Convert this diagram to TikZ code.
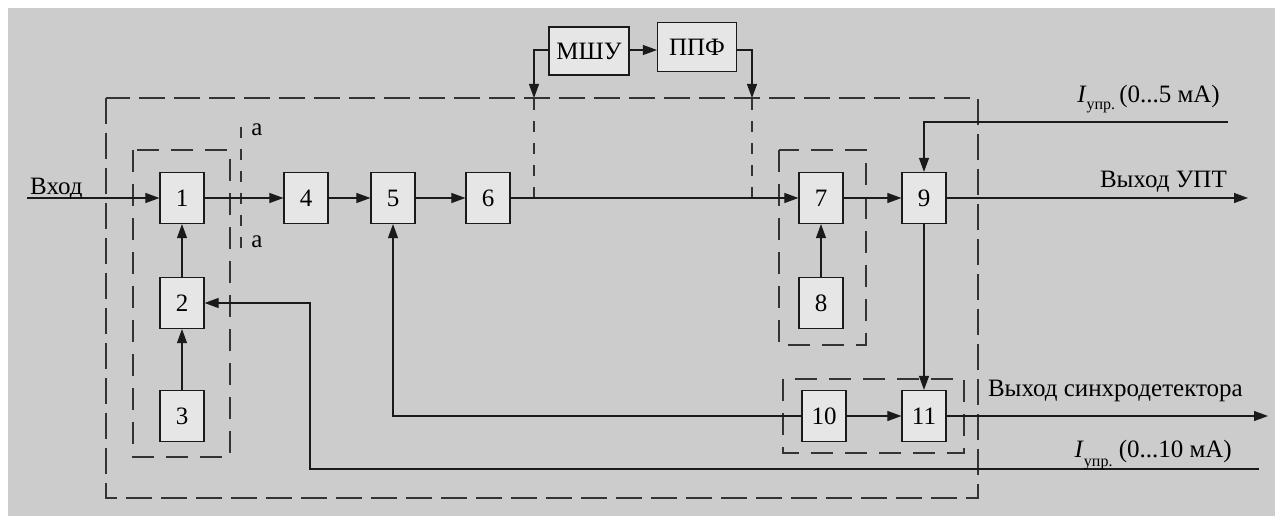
\documentclass[tikz,border=0pt]{standalone}
\usepackage{fontspec}
\setmainfont{Liberation Serif}
\usetikzlibrary{arrows.meta}
\definecolor{bg}{HTML}{CCCCCC}
\definecolor{boxgray}{HTML}{E6E6E6}
\definecolor{ink}{HTML}{1A1A1A}
\definecolor{dashink}{HTML}{333333}
\begin{document}
\begin{tikzpicture}[x=1pt,y=-1pt,
  blk/.style={draw=ink, line width=1.2pt, fill=boxgray, minimum width=44pt, minimum height=51pt, inner sep=0pt, font=\fontsize{25}{29}\selectfont},
  wblk/.style={blk, minimum width=80pt, minimum height=48pt},
  sig/.style={draw=ink, line width=1.1pt},
  arr/.style={sig, -{Triangle[length=14pt,width=10pt]}},
  outerdash/.style={draw=dashink, line width=1.2pt, dash pattern=on 26pt off 9pt},
  innerdash/.style={draw=dashink, line width=1.2pt, dash pattern=on 22pt off 12pt},
  thindash/.style={draw=dashink, line width=1.1pt, dash pattern=on 11pt off 11pt},
  lbl/.style={font=\fontsize{25}{29}\selectfont, inner sep=0pt}
]
% page and background
\useasboundingbox (0,0) rectangle (1275,516);
\fill[white] (0,0) rectangle (1275,516);
\fill[bg] (8,8) rectangle (1275,516);

% dashed frames
\draw[outerdash] (106,98) rectangle (978,498);
\draw[innerdash] (133,150) rectangle (230,457);
\draw[innerdash] (779,150) rectangle (866,345);
\draw[innerdash] (783,379) rectangle (964,453);
\draw[thindash] (241,127) -- (241,248);
\node[lbl] (la1) at (257,130) {а};
\node[lbl] (la2) at (257,242) {а};

% blocks
\node[blk] (b1) at (182,198) {1};
\node[blk] (b4) at (306,198) {4};
\node[blk] (b5) at (393,198) {5};
\node[blk] (b6) at (488,198) {6};
\node[blk] (b7) at (821,198) {7};
\node[blk] (b9) at (924,198) {9};
\node[blk] (b2) at (182,303) {2};
\node[blk] (b3) at (182,416) {3};
\node[blk] (b8) at (821,303) {8};
\node[blk] (b10) at (824,416) {10};
\node[blk] (b11) at (924,416) {11};
\node[wblk] (mshu) at (589,51) {МШУ};
\node[wblk, minimum width=79pt, minimum height=49pt] (ppf) at (697,47) {ППФ};

% coordinates
\coordinate (in) at (27,198);
\coordinate (d1top) at (534,98);
\coordinate (d1bot) at (534,198);
\coordinate (d2top) at (752,98);
\coordinate (d2bot) at (752,198);
\coordinate (i5) at (1228,122);
\coordinate (i10) at (1259,469);
\coordinate (i10c) at (310,469);
\coordinate (oupt) at (1248,198);
\coordinate (osd) at (1268,416);

% dashed taps to МШУ / ППФ
\draw[thindash] (d1bot) -- (d1top);
\draw[thindash] (d2bot) -- (d2top);
\draw[arr] (mshu.west |- 0,50) -| (d1top);
\draw[arr] (ppf.east |- 0,50) -| (d2top);
\draw[arr] (mshu.east |- 0,50) -- (ppf.west |- 0,50);

% main chain
\draw[arr] (in) -- (b1);
\draw[arr] (b1) -- (b4);
\draw[arr] (b4) -- (b5);
\draw[arr] (b5) -- (b6);
\draw[arr] (b6) -- (b7);
\draw[arr] (b7) -- (b9);
\draw[arr] (b9) -- (oupt);
\draw[arr] (b2) -- (b1);
\draw[arr] (b3) -- (b2);
\draw[arr] (b8) -- (b7);
\draw[arr] (b9) -- (b11);
\draw[arr] (b10) -- (b11);
\draw[arr] (b11) -- (osd);
\draw[arr] (b10.west) -| (b5.south);
\draw[arr] (i5) -| (b9.north);
\draw[arr] (i10) -- (i10c) |- (b2.east);

% texts
\node[lbl, anchor=base west] (tin) at (30,194) {Вход};
\node[lbl, anchor=base east] (tupt) at (1227,187) {Выход УПТ};
\node[lbl, anchor=base east] (tsd) at (1243,396) {Выход синхродетектора};
\node[lbl, anchor=base east] (t5) at (1220,103) {\textit{I}\raisebox{-7pt}{\fontsize{16}{18}\selectfont упр.}\,(0...5 мА)};
\node[lbl, anchor=base east] (t10) at (1232,457) {\textit{I}\raisebox{-9pt}{\fontsize{16}{18}\selectfont упр.} (0...10 мА)};
\end{tikzpicture}
\end{document}
